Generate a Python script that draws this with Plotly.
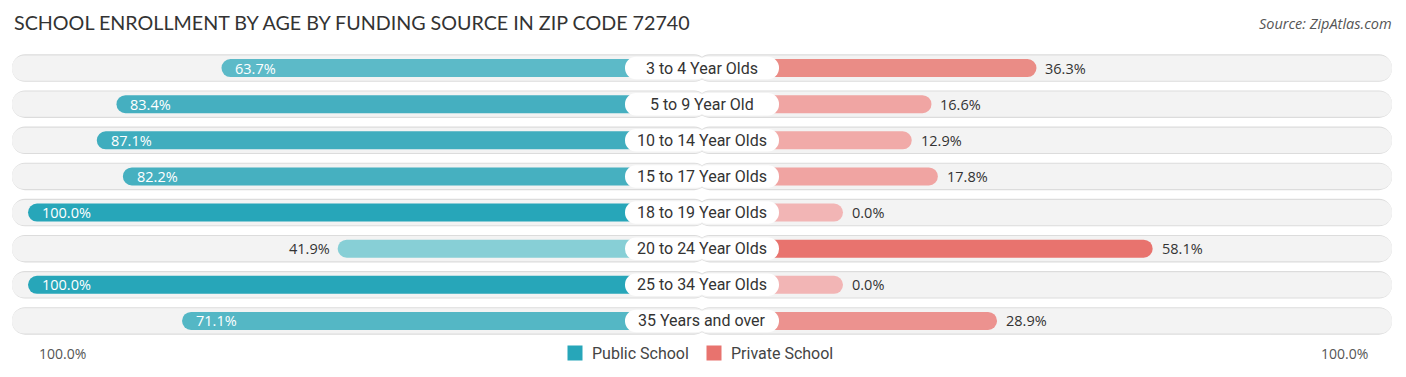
import plotly.graph_objects as go

# ---- data ----
categories = ["3 to 4 Year Olds", "5 to 9 Year Old", "10 to 14 Year Olds", "15 to 17 Year Olds",
              "18 to 19 Year Olds", "20 to 24 Year Olds", "25 to 34 Year Olds", "35 Years and over"]
public_pct = [63.7, 83.4, 87.1, 82.2, 100.0, 41.9, 100.0, 71.1]
private_pct = [36.3, 16.6, 12.9, 17.8, 0.0, 58.1, 0.0, 28.9]
series_names = ["Public School", "Private School"]

title_text = "SCHOOL ENROLLMENT BY AGE BY FUNDING SOURCE IN ZIP CODE 72740"
source_text = "Source: ZipAtlas.com"

# ---- styles ----
public_colors = ["#5cbac8", "#45afc0", "#40adbe", "#46b0c0", "#27a6b9", "#87cfd6", "#27a6b9", "#54b7c5"]
private_colors = ["#ea8c86", "#f0a5a3", "#f1aaa8", "#f0a4a2", "#f2b5b5", "#e8736e", "#f2b5b5", "#ec928f"]
legend_colors = ["#27a6b9", "#e8736e"]
PX_PER_UNIT = 5.33
OFF = 141 / PX_PER_UNIT          # bars start behind the central label
TRACK = 690 / PX_PER_UNIT        # half-width of the background track
LABEL_HALF = 77 / PX_PER_UNIT    # half-width of the central label pill
W, H = 1406, 377
PLOT_H = 289
XR = [-702 / PX_PER_UNIT, 704 / PX_PER_UNIT]

n = len(categories)
ys = list(range(n))

fig = go.Figure()

# background track (border layer then fill layer), two halves overlapping at centre
for width, color in [(0.76, "#dcdcdc"), (0.70, "#f3f3f3")]:
    fig.add_trace(go.Bar(y=ys, x=[-(TRACK + 1)] * n, base=[1] * n, orientation="h", width=width,
                         marker=dict(color=color, cornerradius=14, line=dict(width=0)),
                         showlegend=False, hoverinfo="skip"))
    fig.add_trace(go.Bar(y=ys, x=[TRACK + 1] * n, base=[-1] * n, orientation="h", width=width,
                         marker=dict(color=color, cornerradius=14, line=dict(width=0)),
                         showlegend=False, hoverinfo="skip"))

# public (left) bars
fig.add_trace(go.Bar(y=ys, x=[-(OFF + v) for v in public_pct], base=[0] * n, orientation="h",
                     width=0.5, name=series_names[0],
                     marker=dict(color=public_colors, cornerradius=9, line=dict(width=0)),
                     hoverinfo="skip", showlegend=False))
# private (right) bars
fig.add_trace(go.Bar(y=ys, x=[OFF + v for v in private_pct], base=[0] * n, orientation="h",
                     width=0.5, name=series_names[1],
                     marker=dict(color=private_colors, cornerradius=9, line=dict(width=0)),
                     hoverinfo="skip", showlegend=False))

# central white label pill
fig.add_trace(go.Bar(y=ys, x=[-(LABEL_HALF + 1)] * n, base=[1] * n, orientation="h", width=0.62,
                     marker=dict(color="white", cornerradius=11, line=dict(width=0)),
                     showlegend=False, hoverinfo="skip"))
fig.add_trace(go.Bar(y=ys, x=[LABEL_HALF + 1] * n, base=[-1] * n, orientation="h", width=0.62,
                     marker=dict(color="white", cornerradius=11, line=dict(width=0)),
                     showlegend=False, hoverinfo="skip"))

ann = []
for i, c in enumerate(categories):
    ann.append(dict(x=0, y=i, text=c, showarrow=False, xanchor="center", yanchor="middle",
                    font=dict(family="Roboto", size=16, color="#333")))
    pv = public_pct[i]
    left_end = -(OFF + pv)
    if pv >= 55:
        ann.append(dict(x=left_end + 12 / PX_PER_UNIT, y=i, text=f"{pv:.1f}%", showarrow=False,
                        xanchor="left", yanchor="middle",
                        font=dict(family="Open Sans", size=14.5, color="white")))
    else:
        ann.append(dict(x=left_end - 6 / PX_PER_UNIT, y=i, text=f"{pv:.1f}%", showarrow=False,
                        xanchor="right", yanchor="middle",
                        font=dict(family="Open Sans", size=14.5, color="#333")))
    rv = private_pct[i]
    ann.append(dict(x=OFF + rv + 7 / PX_PER_UNIT, y=i, text=f"{rv:.1f}%", showarrow=False,
                    xanchor="left", yanchor="middle",
                    font=dict(family="Open Sans", size=14.5, color="#333")))

ann.append(dict(xref="paper", yref="paper", x=12 / W, y=1 + 28 / PLOT_H, text=title_text,
                showarrow=False, xanchor="left", yanchor="middle",
                font=dict(family="Lato", size=19.7, color="#333")))
ann.append(dict(xref="paper", yref="paper", x=1394 / W, y=1 + 26 / PLOT_H,
                text=f"<i>{source_text}</i>", showarrow=False,
                xanchor="right", yanchor="middle",
                font=dict(family="Open Sans", size=14.5, color="#555")))
ly = -14 / PLOT_H
ann.append(dict(xref="paper", yref="paper", x=37 / W, y=ly, text="100.0%", showarrow=False,
                xanchor="left", yanchor="middle", font=dict(family="Open Sans", size=14, color="#555")))
ann.append(dict(xref="paper", yref="paper", x=1370 / W, y=ly, text="100.0%", showarrow=False,
                xanchor="right", yanchor="middle", font=dict(family="Open Sans", size=14, color="#555")))

# manual legend
legend_x = [567, 706]
for name, col, lx in zip(series_names, legend_colors, legend_x):
    ann.append(dict(xref="paper", yref="paper", x=lx / W, y=ly, text=" ", showarrow=False,
                    xanchor="left", yanchor="middle", bgcolor=col, width=14, height=14,
                    borderpad=0, font=dict(size=10)))
    ann.append(dict(xref="paper", yref="paper", x=(lx + 23) / W, y=ly, text=name, showarrow=False,
                    xanchor="left", yanchor="middle",
                    font=dict(family="Roboto", size=16, color="#444")))

fig.update_layout(
    width=W, height=H,
    margin=dict(l=0, r=0, t=50, b=38),
    barmode="overlay",
    plot_bgcolor="white", paper_bgcolor="white",
    xaxis=dict(range=XR, visible=False, fixedrange=True),
    yaxis=dict(range=[n - 0.5, -0.5], visible=False, fixedrange=True),
    annotations=ann,
    showlegend=False,
)

fig.write_html("out.html", config={"displayModeBar": False},
               post_script="document.body.style.margin='0px';")
